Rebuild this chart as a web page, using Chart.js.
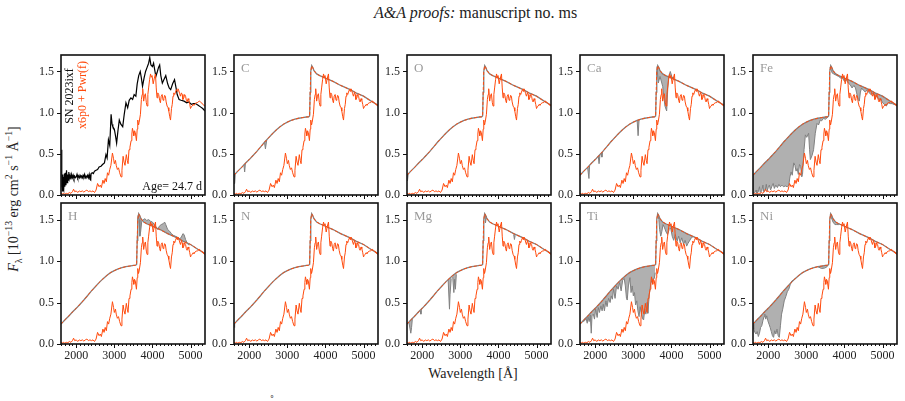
<!DOCTYPE html>
<html><head><meta charset="utf-8">
<script src="https://cdn.jsdelivr.net/npm/chart.js@4.4.0/dist/chart.umd.min.js"></script>
<style>
html,body{margin:0;padding:0;background:#fff;}
#wrap{position:relative;width:905px;height:401px;overflow:hidden;font-family:"Liberation Serif","Times New Roman",serif;color:#222;}
canvas{position:absolute;}
.title{position:absolute;left:374px;top:4px;width:200px;text-align:center;font-size:16px;white-space:nowrap;}
.xlab{position:absolute;left:373px;top:366px;width:200px;text-align:center;font-size:14px;}
.ylab{position:absolute;left:-136px;top:191px;width:300px;text-align:center;font-size:14px;transform:rotate(-90deg);white-space:nowrap;}
.ylab sup,.ylab sub{font-size:70%;line-height:0;}
.ring{position:absolute;left:270px;top:393px;font-size:12px;}
</style></head>
<body><div id="wrap">
<div class="title"><i>A&amp;A proofs:</i> manuscript no. ms</div>
<div class="ylab"><i>F</i><sub>λ</sub> [10<sup>−13</sup> erg cm<sup>2</sup> s<sup>−1</sup> Å<sup>−1</sup>]</div>
<div class="xlab">Wavelength [Å]</div>
<div class="ring">˚</div>
</div>
<script>
// ---------- data ----------
const X_MAJOR = [2000, 3000, 4000, 5000];
const Y_MAJOR = [0.0, 0.5, 1.0, 1.5];
const PANEL_LABELS = ['', 'C', 'O', 'Ca', 'Fe', 'H', 'N', 'Mg', 'Ti', 'Ni'];

const MODEL_WAVE = [1600,1630,1660,1700,1740,1780,1820,1860,1900,1930,1960,2000,2040,2080,2120,2160,2200,2240,2280,2320,2360,2400,2440,2480,2520,2560,2600,2630,2660,2700,2730,2760,2790,2820,2850,2880,2910,2950,2980,3000,3030,3050,3080,3110,3140,3175,3200,3230,3255,3280,3315,3340,3360,3385,3410,3440,3460,3475,3495,3510,3530,3550,3580,3600,3615,3635,3650,3685,3710,3730,3745,3770,3790,3815,3840,3860,3880,3900,3925,3950,3970,3990,4020,4050,4080,4100,4120,4140,4165,4190,4210,4230,4255,4280,4300,4320,4340,4360,4385,4410,4430,4455,4475,4500,4520,4540,4560,4585,4605,4630,4650,4670,4690,4715,4735,4760,4780,4800,4825,4845,4870,4890,4910,4935,4955,4980,5000,5020,5040,5070,5090,5120,5150,5175,5200,5230,5260,5290,5320,5350,5380];
const MODEL_FLUX = [0.02,0.01,0.02,0.01,0.02,0.015,0.03,0.02,0.04,0.07,0.04,0.05,0.03,0.05,0.04,0.05,0.035,0.05,0.06,0.04,0.05,0.04,0.05,0.03,0.06,0.14,0.10,0.12,0.09,0.18,0.14,0.20,0.16,0.27,0.24,0.31,0.36,0.51,0.44,0.38,0.42,0.36,0.31,0.33,0.27,0.22,0.30,0.47,0.40,0.36,0.49,0.42,0.38,0.55,0.58,0.66,0.74,0.81,0.77,0.72,0.78,0.76,0.66,0.80,0.91,0.85,0.88,0.98,1.16,1.22,1.29,1.14,1.20,1.23,1.12,1.08,1.22,1.30,1.40,1.47,1.43,1.45,1.35,1.42,1.47,1.30,1.18,1.24,1.22,1.15,1.12,1.20,1.22,1.15,1.17,1.21,1.20,1.13,1.08,1.06,1.02,0.95,0.91,1.05,1.10,1.20,1.24,1.22,1.25,1.28,1.26,1.29,1.27,1.23,1.20,1.24,1.22,1.16,1.18,1.22,1.20,1.15,1.13,1.17,1.15,1.10,1.05,1.07,1.08,1.10,1.09,1.11,1.12,1.12,1.13,1.14,1.13,1.12,1.10,1.09,1.08];

const OBS_WAVE = [1605,1615,1625,1635,1645,1655,1665,1675,1690,1700,1715,1730,1745,1760,1775,1790,1805,1820,1840,1860,1880,1900,1920,1940,1960,1980,2000,2020,2040,2060,2080,2100,2120,2140,2160,2180,2200,2220,2240,2260,2280,2300,2320,2340,2360,2380,2390,2420,2450,2480,2520,2560,2600,2650,2690,2740,2780,2810,2845,2880,2915,2940,2960,3000,3030,3060,3095,3130,3170,3220,3260,3305,3350,3390,3435,3480,3520,3565,3600,3640,3680,3710,3740,3780,3820,3860,3900,3930,3960,4000,4030,4060,4090,4130,4160,4190,4220,4260,4300,4350,4400,4440,4480,4530,4580,4620,4650,4700,4750,4830,4900,4960,5020,5080,5130,5200,5260,5320,5380];
const OBS_FLUX = [0.10,0.55,0.15,0.05,0.25,0.08,0.22,0.06,0.26,0.10,0.27,0.12,0.30,0.15,0.25,0.18,0.28,0.20,0.24,0.19,0.25,0.21,0.24,0.20,0.23,0.21,0.22,0.25,0.21,0.23,0.21,0.24,0.22,0.23,0.21,0.24,0.22,0.25,0.21,0.23,0.22,0.24,0.21,0.25,0.19,0.18,0.26,0.27,0.26,0.29,0.30,0.31,0.34,0.35,0.37,0.39,0.49,0.45,0.67,0.60,0.98,0.86,0.83,0.80,0.72,0.63,0.78,0.91,0.86,0.83,0.98,1.12,1.06,1.15,1.18,1.16,1.22,1.20,1.35,1.45,1.50,1.42,1.32,1.42,1.50,1.55,1.60,1.67,1.58,1.56,1.60,1.52,1.44,1.50,1.55,1.58,1.45,1.36,1.40,1.45,1.35,1.30,1.28,1.35,1.40,1.30,1.22,1.16,1.15,1.14,1.12,1.13,1.10,1.11,1.11,1.09,1.07,1.05,1.02];

const CONT_WAVE = [1600,1700,1800,1900,2000,2100,2200,2300,2400,2500,2600,2700,2800,2900,3000,3100,3200,3300,3400,3500,3560,3585,3600,3615,3640,3665,3700,3770,3850,4000,4200,4400,4650,4800,5000,5200,5380];
const CONT_FLUX = [0.24,0.29,0.335,0.385,0.43,0.48,0.53,0.585,0.64,0.69,0.74,0.785,0.825,0.86,0.885,0.905,0.92,0.932,0.94,0.947,0.95,0.96,1.25,1.50,1.57,1.55,1.51,1.47,1.45,1.42,1.38,1.33,1.28,1.24,1.20,1.14,1.09];

// element-only spectra (segments separated by null)
const C_LINE = [[1600,0.24],[1615,0.14],[1632,0.25],[1700,null],[1860,0.365],[1880,0.28],[1900,0.385],[2000,null],[2400,0.64],[2425,0.56],[2460,0.67]];
const O_LINE = [[1600,0.24],[1612,0.17],[1630,0.25]];
const CA_LINE = [[1800,0.335],[1835,0.20],[1852,0.36],[1900,null],[2080,0.47],[2100,0.38],[2125,0.49],[2140,null],[2160,0.51],[2175,0.46],[2190,0.525],[2300,null],[3100,0.905],[3125,0.72],[3150,0.912],[3300,null],[3620,1.56],[3655,1.36],[3700,1.44],[3770,1.32],[3830,1.08],[3875,1.02],[3905,1.30],[3930,1.44],[3970,1.50],[4010,1.44],[4050,1.41]];
const FE_LINE = [[1600,0.24],[1610,0.02],[1650,0.03],[1680,0.06],[1700,0.02],[1740,0.04],[1770,0.10],[1790,0.03],[1830,0.05],[1860,0.12],[1880,0.04],[1920,0.06],[1950,0.13],[1970,0.05],[2000,0.09],[2030,0.12],[2060,0.06],[2100,0.11],[2130,0.14],[2160,0.08],[2200,0.12],[2240,0.09],[2280,0.13],[2320,0.10],[2360,0.12],[2400,0.10],[2450,0.11],[2500,0.10],[2540,0.12],[2570,0.22],[2600,0.28],[2630,0.24],[2670,0.39],[2700,0.36],[2730,0.29],[2760,0.32],[2790,0.25],[2820,0.37],[2850,0.35],[2880,0.22],[2900,0.25],[2940,0.55],[2975,0.73],[3010,0.70],[3060,0.75],[3085,0.55],[3105,0.43],[3150,0.48],[3190,0.55],[3235,0.75],[3280,0.87],[3320,0.85],[3365,0.91],[3400,0.90],[3450,0.93],[3500,0.92],[3540,0.935],[3570,0.95],[3590,null],[3620,1.55],[3650,1.52],[3680,1.48],[3720,1.47],[3760,1.46],[3800,1.45],[3850,1.44],[3900,1.42],[3950,1.42],[4000,1.38],[4050,1.40],[4100,1.36],[4150,1.34],[4200,1.30],[4250,1.33],[4290,1.30],[4320,1.24],[4360,1.16],[4390,1.14],[4420,1.25],[4450,1.30],[4500,1.27],[4550,1.25],[4600,1.28],[4650,1.24],[4700,1.22],[4750,1.24],[4800,1.18],[4850,1.20],[4900,1.16],[4950,1.17],[5000,1.12],[5050,1.10],[5100,1.08],[5150,1.12],[5200,1.11],[5250,1.11],[5300,1.10],[5380,1.09]];
const H_LINE = [[3600,1.25],[3625,1.55],[3650,1.50],[3670,1.30],[3690,1.35],[3720,1.48],[3760,1.50],[3800,1.51],[3850,1.49],[3900,1.50],[3950,1.48],[4000,1.47],[4050,1.44],[4100,1.41],[4140,1.38],[4180,1.42],[4230,1.44],[4280,1.45],[4320,1.47],[4350,1.44],[4400,1.38],[4450,1.36],[4500,1.33],[4550,1.31],[4600,1.30],[4650,1.29],[4700,1.27],[4750,1.28],[4800,1.33],[4830,1.32],[4870,1.26],[4920,1.21],[4960,1.19]];
const N_LINE = [[1600,0.24],[1610,0.20],[1625,0.25]];
const MG_LINE = [[1650,0.26],[1700,0.13],[1720,0.20],[1740,0.30],[1800,null],[1950,0.40],[1965,0.36],[1980,0.42],[2100,null],[2680,0.775],[2715,0.42],[2730,0.60],[2760,0.79],[2780,null],[2800,0.81],[2830,0.62],[2850,0.78],[2870,0.66],[2895,0.84],[3000,null],[3640,1.57],[3660,1.46],[3685,1.54],[3800,null],[4400,1.32],[4420,1.26],[4440,1.31]];
const TI_LINE = [[1620,0.25],[1670,0.27],[1720,0.28],[1760,0.31],[1790,0.25],[1810,0.33],[1840,0.27],[1870,0.35],[1895,0.13],[1915,0.34],[1950,0.36],[1980,0.30],[2010,0.42],[2050,0.32],[2080,0.44],[2110,0.38],[2150,0.46],[2180,0.40],[2210,0.48],[2240,0.40],[2280,0.52],[2310,0.45],[2350,0.55],[2390,0.50],[2420,0.58],[2450,0.54],[2480,0.66],[2520,0.55],[2560,0.70],[2600,0.66],[2640,0.74],[2680,0.64],[2720,0.77],[2760,0.79],[2790,0.70],[2820,0.55],[2840,0.53],[2870,0.70],[2910,0.80],[2940,0.62],[2970,0.70],[3000,0.58],[3030,0.62],[3060,0.47],[3090,0.52],[3120,0.40],[3150,0.33],[3180,0.45],[3210,0.36],[3250,0.30],[3270,0.29],[3300,0.42],[3330,0.36],[3360,0.50],[3380,0.37],[3420,0.60],[3460,0.73],[3500,0.78],[3550,0.79],[3575,0.86],[3600,null],[3640,1.57],[3670,1.50],[3690,1.38],[3720,1.30],[3750,1.36],[3780,1.44],[3820,1.40],[3860,1.35],[3900,1.32],[3940,1.38],[3980,1.40],[4020,1.30],[4060,1.25],[4100,1.32],[4150,1.24],[4190,1.30],[4230,1.22],[4270,1.28],[4320,1.20],[4360,1.25],[4400,1.18],[4430,1.21],[4470,1.24],[4520,1.28],[4560,1.29]];
const NI_LINE = [[1600,0.24],[1620,0.18],[1650,0.14],[1680,0.12],[1710,0.15],[1740,0.09],[1770,0.13],[1800,0.20],[1830,0.22],[1860,0.28],[1890,0.33],[1910,0.36],[1935,0.30],[1960,0.34],[1990,0.28],[2020,0.24],[2050,0.20],[2080,0.15],[2110,0.10],[2140,0.08],[2170,0.16],[2200,0.12],[2230,0.18],[2260,0.10],[2290,0.08],[2320,0.22],[2350,0.36],[2380,0.42],[2420,0.52],[2460,0.57],[2500,0.63],[2540,0.66],[2580,0.72],[2620,0.76],[2660,0.77],[2700,0.785],[2800,null],[3300,0.932],[3400,0.91],[3480,0.915],[3540,0.93],[3570,0.95],[3600,null],[3630,1.56],[3660,1.52],[3700,1.47],[3750,1.44],[3800,1.44],[3850,1.44],[3880,1.45]];

const ELEMENT_LINES = [null, C_LINE, O_LINE, CA_LINE, FE_LINE, H_LINE, N_LINE, MG_LINE, TI_LINE, NI_LINE];

// ---------- layout / style ----------
const FONT = '"Liberation Serif", "Times New Roman", serif';
const X_MIN = 1600, X_MAX = 5380, Y_MIN = 0, Y_MAX = 1.7;
const PANEL_LEFT = [61, 234, 407, 580, 753];
const PANEL_TOP = [55, 203];
const PANEL_H = [140, 141];
const PANEL_W = 144;
const ORANGE = '#ff4a0c';
const PAD_L = 34, PAD_T = 4, PAD_R = 4;

function pts(w, f) { return w.map((x, i) => ({x: x, y: f[i]})); }
function pairs(a) { return a.map(p => ({x: p[0], y: p[1]})); }

const framePlugin = {
  id: 'frame',
  afterDatasetsDraw(chart, args, opts) {
    const {ctx, chartArea: a, scales} = chart;
    const xs = scales.x, ys = scales.y;
    ctx.save();
    ctx.strokeStyle = '#111';
    ctx.lineWidth = 1;
    for (let v = 1600; v <= X_MAX; v += 100) {
      const px = Math.round(xs.getPixelForValue(v)) + 0.5;
      const len = (v % 1000 === 0) ? 4 : 2;
      ctx.beginPath(); ctx.moveTo(px, a.bottom); ctx.lineTo(px, a.bottom + len); ctx.stroke();
    }
    for (const v of Y_MAJOR) {
      const py = Math.round(ys.getPixelForValue(v)) + 0.5;
      ctx.beginPath(); ctx.moveTo(a.left, py); ctx.lineTo(a.left - 4, py); ctx.stroke();
    }
    ctx.lineWidth = 1.6;
    ctx.strokeRect(a.left, a.top, a.right - a.left, a.bottom - a.top);
    if (opts.label) {
      ctx.fillStyle = '#9a9a9a';
      ctx.font = '13px ' + FONT;
      ctx.textBaseline = 'alphabetic';
      ctx.textAlign = 'left';
      ctx.fillText(opts.label, a.left + 7, a.top + 17);
    }
    if (opts.first) {
      ctx.font = '12px ' + FONT;
      ctx.textAlign = 'center';
      ctx.textBaseline = 'middle';
      ctx.save();
      ctx.translate(a.left + 9, a.top + 41);
      ctx.rotate(-Math.PI / 2);
      ctx.fillStyle = '#111';
      ctx.fillText('SN 2023ixf', 0, 0);
      ctx.restore();
      ctx.save();
      ctx.translate(a.left + 22, a.top + 40);
      ctx.rotate(-Math.PI / 2);
      ctx.fillStyle = ORANGE;
      ctx.fillText('x6p0 + Pwr(f)', 0, 0);
      ctx.restore();
      ctx.fillStyle = '#111';
      ctx.textAlign = 'right';
      ctx.textBaseline = 'alphabetic';
      ctx.fillText('Age= 24.7 d', a.right - 3, a.bottom - 5);
    }
    ctx.restore();
  }
};

const wrap = document.getElementById('wrap');

function makePanel(i) {
  const col = i % 5, row = Math.floor(i / 5);
  const axisH = row === 1 ? 22 : 8;
  const cv = document.createElement('canvas');
  const w = PAD_L + PANEL_W + PAD_R, h = PAD_T + PANEL_H[row] + axisH;
  cv.width = w; cv.height = h;
  cv.style.left = (PANEL_LEFT[col] - PAD_L) + 'px';
  cv.style.top = (PANEL_TOP[row] - PAD_T) + 'px';
  cv.style.width = w + 'px'; cv.style.height = h + 'px';
  wrap.appendChild(cv);

  let datasets;
  if (i === 0) {
    datasets = [
      {data: pts(MODEL_WAVE, MODEL_FLUX), borderColor: ORANGE, borderWidth: 1, order: 0},
      {data: pts(OBS_WAVE, OBS_FLUX), borderColor: '#000', borderWidth: 1.2, order: 1}
    ];
  } else {
    datasets = [
      {data: pts(MODEL_WAVE, MODEL_FLUX), borderColor: ORANGE, borderWidth: 1, order: 0},
      {data: pts(CONT_WAVE, CONT_FLUX), borderColor: ORANGE, borderWidth: 1, borderDash: [3, 2], order: 1},
      {data: pts(CONT_WAVE, CONT_FLUX), borderColor: '#808080', borderWidth: 1.3, order: 2},
      {data: pairs(ELEMENT_LINES[i]), borderColor: '#808080', borderWidth: 1, backgroundColor: '#b0b0b0', fill: {target: 2}, spanGaps: false, order: 3}
    ];
  }

  const chart = new Chart(cv, {
    type: 'line',
    data: {datasets: datasets},
    plugins: [framePlugin],
    options: {
      responsive: false, maintainAspectRatio: false, animation: false, events: [],
      devicePixelRatio: 1,
      layout: {padding: {left: 0, right: PAD_R, top: PAD_T, bottom: 0}},
      elements: {point: {radius: 0}, line: {tension: 0}},
      plugins: {
        legend: {display: false}, tooltip: {enabled: false},
        filler: {propagate: false},
        frame: {label: PANEL_LABELS[i], first: i === 0}
      },
      scales: {
        x: {
          type: 'linear', min: X_MIN, max: X_MAX,
          afterFit: s => { s.height = axisH; s.paddingLeft = 0; s.paddingRight = 0; s.paddingTop = 0; s.paddingBottom = 0; },
          afterBuildTicks: s => { s.ticks = X_MAJOR.map(v => ({value: v})); },
          ticks: {display: row === 1, autoSkip: false, maxRotation: 0, padding: 5,
                  font: {family: FONT, size: 12}, color: '#222', callback: v => String(v)},
          grid: {display: false, drawTicks: false, drawOnChartArea: false},
          border: {display: false}
        },
        y: {
          type: 'linear', min: Y_MIN, max: Y_MAX,
          afterFit: s => { s.width = PAD_L; s.paddingTop = 0; s.paddingBottom = 0; s.paddingLeft = 0; s.paddingRight = 0; },
          afterBuildTicks: s => { s.ticks = Y_MAJOR.map(v => ({value: v})); },
          ticks: {autoSkip: false, padding: 7, font: {family: FONT, size: 12}, color: '#222',
                  callback: v => Number(v).toFixed(1)},
          grid: {display: false, drawTicks: false, drawOnChartArea: false},
          border: {display: false}
        }
      }
    }
  });
  // keep the plot frame exactly on the reference frame position
  const a = chart.chartArea;
  const dx = PAD_L - a.left, dy = PAD_T - a.top;
  if (Math.abs(dx) > 0.5 || Math.abs(dy) > 0.5) {
    cv.style.left = (PANEL_LEFT[col] - PAD_L + dx) + 'px';
    cv.style.top = (PANEL_TOP[row] - PAD_T + dy) + 'px';
  }
}

for (let i = 0; i < 10; i++) makePanel(i);
</script>
</body></html>
